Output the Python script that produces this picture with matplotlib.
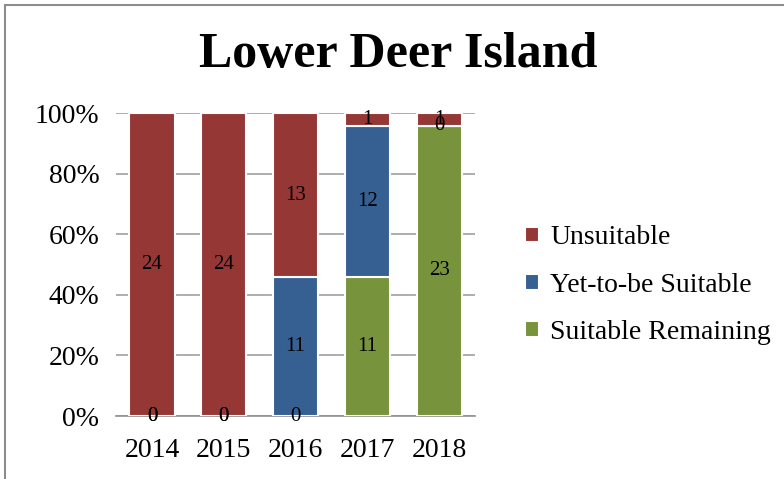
import numpy as np
import matplotlib.pyplot as plt
from matplotlib.patches import Rectangle

years = ["2014", "2015", "2016", "2017", "2018"]
suitable_remaining = [0, 0, 0, 11, 23]
yet_to_be = [0, 0, 11, 12, 0]
unsuitable = [24, 24, 13, 1, 1]

plt.rcParams['font.family'] = ['Liberation Serif', 'DejaVu Serif']

c_red = '#953735'
c_blue = '#376092'
c_green = '#77933C'

fig = plt.figure(figsize=(7.84, 4.79), dpi=100)
ax = fig.add_axes([0.148, 0.1315, 0.458, 0.6325])

# frame round the chart area
fig.patches.append(Rectangle((5 / 784, -0.1), 1.2, 1 - 5 / 479 + 0.1,
                             transform=fig.transFigure, fill=False,
                             edgecolor='#8c8c8c', linewidth=1.5))

sr = np.array(suitable_remaining, float)
yb = np.array(yet_to_be, float)
us = np.array(unsuitable, float)
tot = sr + yb + us
p_sr = sr / tot * 100
p_yb = yb / tot * 100
p_us = us / tot * 100

x = np.arange(len(years))
w = 0.63
b1 = ax.bar(x, p_sr, w, color=c_green, edgecolor='white', linewidth=1.5,
            label='Suitable Remaining', zorder=3)
b2 = ax.bar(x, p_yb, w, bottom=p_sr, color=c_blue, edgecolor='white',
            linewidth=1.5, label='Yet-to-be Suitable', zorder=3)
b3 = ax.bar(x, p_us, w, bottom=p_sr + p_yb, color=c_red, edgecolor='white',
            linewidth=1.5, label='Unsuitable', zorder=3)

# value labels at the middle of each segment
for vals, pcts, bottoms in [(sr, p_sr, np.zeros(len(x))),
                            (yb, p_yb, p_sr),
                            (us, p_us, p_sr + p_yb)]:
    for i in range(len(x)):
        ax.text(x[i], bottoms[i] + pcts[i] / 2, f"{int(vals[i])}",
                ha='center', va='center', fontsize=15, zorder=5)

ax.set_xlim(-0.5, 4.5)
ax.set_ylim(0, 100)
ax.set_yticks(np.arange(0, 101, 20))
ax.set_yticklabels([f"{v}%" for v in range(0, 101, 20)], fontsize=20)
ax.set_xticks(x)
ax.set_xticklabels(years, fontsize=20)
ax.tick_params(axis='both', length=0)
ax.tick_params(axis='y', pad=12)
ax.tick_params(axis='x', pad=16)
ax.grid(axis='y', color='#a0a0a0', linewidth=1.2, zorder=0)
for s in ['left', 'right', 'top']:
    ax.spines[s].set_visible(False)
ax.spines['bottom'].set_color('#909090')
ax.spines['bottom'].set_linewidth(1.2)

fig.text(0.508, 0.885, "Lower Deer Island", ha='center', va='center',
         fontsize=36, fontweight='bold')

handles = [b3, b2, b1]
fig.legend(handles, [h.get_label() for h in handles], loc='center left',
           bbox_to_anchor=(0.638, 0.405), frameon=False, fontsize=20,
           handlelength=0.5, handleheight=0.5, handletextpad=0.4,
           labelspacing=0.8)

fig.savefig("out.png", dpi=100)
